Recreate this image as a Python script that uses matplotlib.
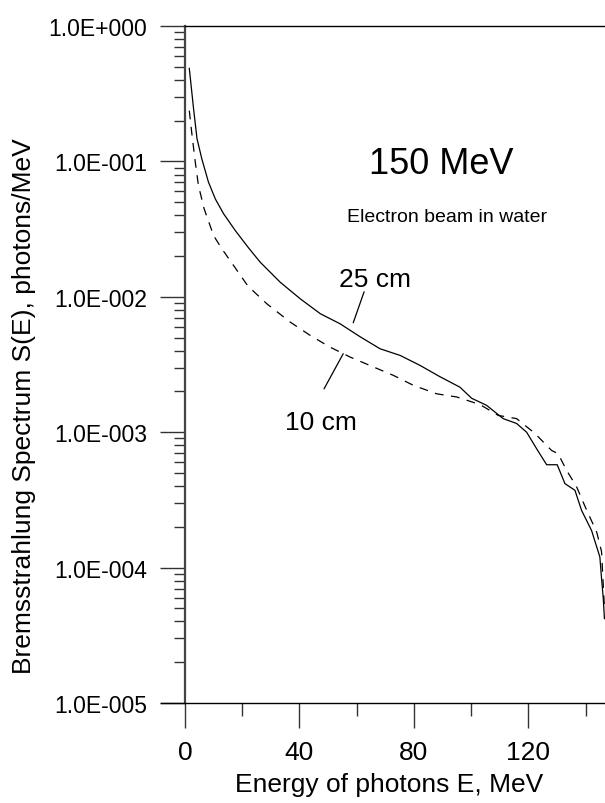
import numpy as np
import matplotlib
matplotlib.use('Agg')
import matplotlib.pyplot as plt
from matplotlib.ticker import FixedLocator, FuncFormatter, LogLocator, NullFormatter

plt.rcParams['font.family'] = ['Liberation Sans', 'DejaVu Sans']

# 25 cm 水层 (实线)
e_25 = [1.5, 3.0, 4.2, 5.9, 8.2, 10.6, 13.5, 17.6, 22.2, 26.3, 33.3, 40.3, 47.3, 54.2,
        61.2, 68.2, 75.2, 82.2, 89.1, 96.1, 100.2, 105.4, 111.2, 115.9, 119.4, 122.9,
        126.4, 130.1, 132.8, 136.3, 138.6, 142.1, 145.0, 145.6, 146.2, 146.6]
s_25 = [0.487, 0.244, 0.147, 0.104, 0.0703, 0.0528, 0.041, 0.0308, 0.023, 0.018, 0.0128,
        0.00966, 0.0075, 0.00632, 0.00507, 0.00413, 0.00369, 0.00311, 0.00257, 0.00215,
        0.00178, 0.00158, 0.00126, 0.00116, 0.0010, 0.000755, 0.000575, 0.000575,
        0.000417, 0.000372, 0.000265, 0.000188, 0.00012, 8.3e-5, 5.9e-5, 4.2e-5]

# 10 cm 水层 (虚线)
e_10 = [1.5, 2.4, 3.6, 4.7, 6.7, 10.0, 12.9, 17.0, 22.0, 28.6, 36.8, 43.8, 50.7, 57.7,
        65.9, 72.8, 79.8, 88.0, 95.0, 103.1, 109.5, 115.9, 122.3, 128.1, 130.4, 133.4,
        136.9, 140.4, 143.9, 145.6, 146.6]
s_10 = [0.237, 0.16, 0.0986, 0.0663, 0.0446, 0.0283, 0.0226, 0.017, 0.012, 0.00888,
        0.0065, 0.00518, 0.00425, 0.00359, 0.00303, 0.00263, 0.00222, 0.00192, 0.00182,
        0.0016, 0.00133, 0.00126, 0.00098, 0.000734, 0.000694, 0.000522, 0.000394,
        0.000265, 0.000183, 0.000131, 5.0e-5]

x_major = [0, 40, 80, 120]
x_minor = [20, 60, 100, 140]
y_decades = [1e-5, 1e-4, 1e-3, 1e-2, 1e-1, 1e0]


def sci_label(v, pos):
    exp = int(round(np.log10(v)))
    return f"1.0E{exp:+04d}"


fig = plt.figure(figsize=(6.05, 8.04), dpi=100)
ax = fig.add_axes([185 / 605, 1 - 704 / 804, 420 / 605, 677 / 804])

ax.plot(e_25, s_25, color='black', lw=0.9)
line10, = ax.plot(e_10, s_10, color='black', lw=0.9)
line10.set_dashes((7, 6))

ax.set_yscale('log')
ax.set_xlim(0, 146.8)
ax.set_ylim(1e-5, 1e0)

ax.xaxis.set_major_locator(FixedLocator(x_major))
ax.xaxis.set_minor_locator(FixedLocator(x_minor))
ax.yaxis.set_major_locator(FixedLocator(y_decades))
ax.yaxis.set_minor_locator(LogLocator(base=10, subs=np.arange(2, 10)))
ax.yaxis.set_major_formatter(FuncFormatter(sci_label))
ax.yaxis.set_minor_formatter(NullFormatter())

ax.tick_params(axis='x', which='major', direction='out', length=18, width=1.0,
               pad=9, labelsize=19, color='#333333')
ax.tick_params(axis='x', which='minor', direction='out', length=9.5, width=1.0,
               color='#333333')
ax.tick_params(axis='y', which='major', direction='out', length=18, width=1.0,
               pad=9, labelsize=16.5, color='#333333')
ax.tick_params(axis='y', which='minor', direction='out', length=8, width=1.0,
               color='#333333')

ax.spines['right'].set_visible(False)
ax.spines['left'].set_linewidth(1.6)
ax.spines['left'].set_color('#444444')
ax.spines['top'].set_linewidth(1.0)
ax.spines['bottom'].set_linewidth(1.0)
ax.spines['bottom'].set_bounds(-8.4, 146.8)

ax.set_xlabel('Energy of photons E, MeV', fontsize=19)
ax.xaxis.set_label_coords(0.486, -0.102)
ax.set_ylabel('Bremsstrahlung Spectrum S(E), photons/MeV', fontsize=19)
ax.yaxis.set_label_coords(-0.355, 0.44)

# 标注文字
ax.text(89.4, 0.082, '150 MeV', fontsize=26, ha='center', va='baseline')
ax.text(91.6, 0.0363, 'Electron beam in water', fontsize=14, ha='center', va='baseline')
ax.text(66.4, 0.01205, '25 cm', fontsize=19, ha='center', va='baseline')
ax.text(47.6, 0.00106, '10 cm', fontsize=19, ha='center', va='baseline')
ax.annotate('', xy=(58.8, 0.00643), xytext=(62.6, 0.01089),
            arrowprops=dict(arrowstyle='-', lw=0.9, color='black', shrinkA=0, shrinkB=0))
ax.annotate('', xy=(55.3, 0.00380), xytext=(48.6, 0.00209),
            arrowprops=dict(arrowstyle='-', lw=0.9, color='black', shrinkA=0, shrinkB=0))

fig.savefig('out.png', dpi=100)
